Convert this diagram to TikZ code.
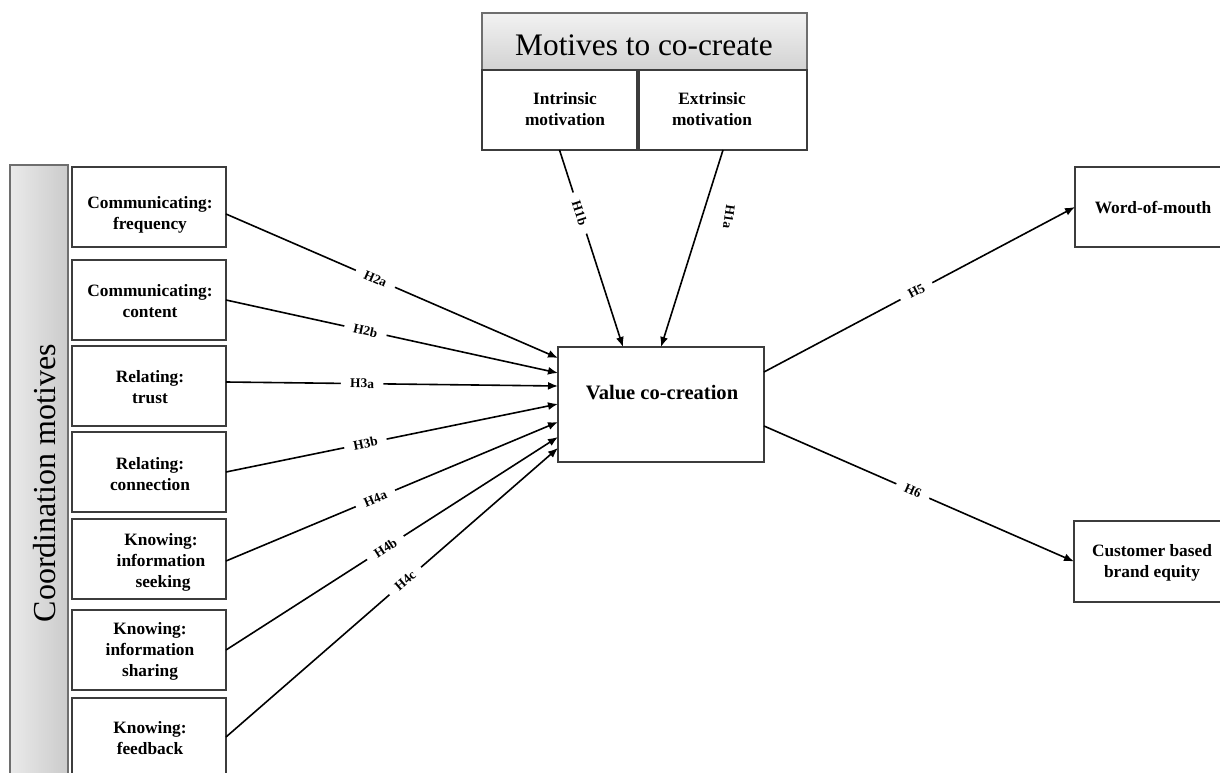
\documentclass[tikz,border=0pt]{standalone}
\usepackage{fontspec}
\setmainfont{Liberation Serif}
\usetikzlibrary{arrows.meta,calc}
\definecolor{boxc}{HTML}{3C3C3C}
\definecolor{barline}{HTML}{6E6E6E}
\definecolor{barL}{HTML}{EAEAEA}
\definecolor{barR}{HTML}{CBCBCB}
\definecolor{hdrT}{HTML}{F2F2F2}
\definecolor{hdrB}{HTML}{D2D2D2}
\begin{document}
\begin{tikzpicture}[x=0.75pt,y=-0.75pt,
  box/.style={draw=boxc, line width=1.1pt, fill=white, inner sep=0pt, outer sep=0pt, rectangle},
  btext/.style={font=\bfseries\fontsize{13}{15.75}\selectfont, align=center, inner sep=0pt},
  arr/.style={line width=1.2pt, -{Latex[length=7.5pt,width=6pt]}},
  hyp/.style={font=\bfseries\fontsize{10}{11}\selectfont, fill=white, inner xsep=7pt, inner ysep=0.5pt, sloped, pos=#1},
  hypfree/.style={font=\bfseries\fontsize{10}{11}\selectfont, inner sep=1pt}
]
\useasboundingbox (0,0) rectangle (1220,773);

% coordination bar
\node[rectangle, draw=barline, line width=1.5pt, left color=barL, right color=barR,
      minimum width=58*0.75pt, minimum height=625*0.75pt, inner sep=0pt] (bar) at (39,477.5) {};
\node[rotate=90, font=\fontsize{24}{28}\selectfont, inner sep=0pt] (bartext) at (45,483) {Coordination motives};

% left boxes
\node[box, minimum width=154*0.75pt, minimum height=80*0.75pt] (b1) at (149,207) {};
\node[box, minimum width=154*0.75pt, minimum height=80*0.75pt] (b2) at (149,300) {};
\node[box, minimum width=154*0.75pt, minimum height=80*0.75pt] (b3) at (149,386) {};
\node[box, minimum width=154*0.75pt, minimum height=80*0.75pt] (b4) at (149,472) {};
\node[box, minimum width=154*0.75pt, minimum height=80*0.75pt] (b5) at (149,559) {};
\node[box, minimum width=154*0.75pt, minimum height=80*0.75pt] (b6) at (149,650) {};
\node[box, minimum width=154*0.75pt, minimum height=82*0.75pt] (b7) at (149,739) {};

\node[btext] (t1) at (150,215) {Communicating:\\frequency};
\node[btext] (t2) at (150,301) {Communicating:\\content};
\node[btext] (t3) at (150,387) {Relating:\\trust};
\node[btext] (t4) at (150,474) {Relating:\\connection};
\node[btext] (t5) at (161,562) {Knowing:\\information\\\hspace*{3pt}seeking};
\node[btext] (t6) at (150,651) {Knowing:\\information\\sharing};
\node[btext] (t7) at (150,738) {Knowing:\\feedback};

% top boxes
\node[rectangle, draw=barline, line width=1.2pt, top color=hdrT, bottom color=hdrB,
      minimum width=325*0.75pt, minimum height=57*0.75pt, inner sep=0pt] (hdr) at (644.5,41.5) {};
\node[font=\fontsize{23.5}{28}\selectfont, inner sep=0pt] (hdrtext) at (644,45) {Motives to co-create};
\node[box, minimum width=155*0.75pt, minimum height=80*0.75pt] (intr) at (559.5,110) {};
\node[box, minimum width=168*0.75pt, minimum height=80*0.75pt] (extr) at (723,110) {};
\node[btext] (tin) at (565,109) {Intrinsic\\motivation};
\node[btext] (tex) at (712,109) {Extrinsic\\motivation};

% centre
\node[box, minimum width=206*0.75pt, minimum height=115*0.75pt] (vc) at (661,404.5) {};
\node[font=\bfseries\fontsize{15.4}{18}\selectfont, inner sep=0pt] (vctext) at (662,393) {Value co-creation};

% right boxes
\node[box, minimum width=160*0.75pt, minimum height=80*0.75pt] (wom) at (1155,207) {};
\node[box, minimum width=160*0.75pt, minimum height=81*0.75pt] (cbbe) at (1154,561.5) {};
\node[btext] (twom) at (1153,208) {Word-of-mouth};
\node[btext] (tcb) at (1152,563) {Customer based\\brand equity};

% connectors from left
\draw[arr] ($(b1.east)+(0,7)$) -- node[hyp=0.45] (l2a) {H2a} ($(vc.west)+(0,-46.5)$);
\draw[arr] (b2.east) -- node[hyp=0.42] (l2b) {H2b} ($(vc.west)+(0,-31.5)$);
\draw[arr] ($(b3.east)+(0,-4)$) -- node[hyp=0.41] (l3a) {H3a} ($(vc.west)+(0,-18.5)$);
\draw[arr] (b4.east) -- node[hyp=0.42] (l3b) {H3b} ($(vc.west)+(0,-0.5)$);
\draw[arr] ($(b5.east)+(0,2)$) -- node[hyp=0.45] (l4a) {H4a} ($(vc.west)+(0,17.5)$);
\draw[arr] (b6.east) -- node[hyp=0.48] (l4b) {H4b} ($(vc.west)+(0,32.5)$);
\draw[arr] ($(b7.east)+(0,-2)$) -- node[hyp=0.54] (l4c) {H4c} ($(vc.west)+(0,43.5)$);

% connectors from top
\draw[arr] (intr.south) -- node[hyp=0.32] (l1b) {H1b} ($(vc.north)+(-38,0)$);
\draw[arr] (extr.south) -- (vc.north);
\node[hypfree, rotate=-98] (l1a) at (729,217) {H1a};

% connectors to right
\draw[arr] ($(vc.east)+(0,-32.5)$) -- node[hyp=0.49] (l5) {H5} (wom.west);
\draw[arr] ($(vc.east)+(0,21.5)$) -- node[hyp=0.48] (l6) {H6} (cbbe.west);
\end{tikzpicture}
\end{document}
